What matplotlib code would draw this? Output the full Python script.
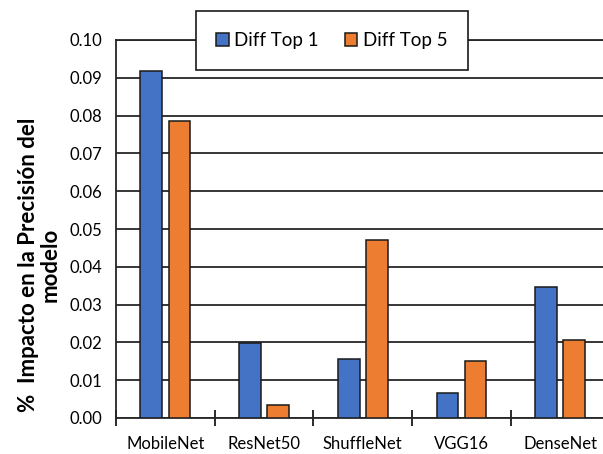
import numpy as np
import matplotlib
matplotlib.use('Agg')
import matplotlib.pyplot as plt

models = ['MobileNet', 'ResNet50', 'ShuffleNet', 'VGG16', 'DenseNet']
diff_top1 = [0.0918, 0.0199, 0.0156, 0.0066, 0.0347]
diff_top5 = [0.0786, 0.0034, 0.0471, 0.0151, 0.0206]
yticks = [0.00, 0.01, 0.02, 0.03, 0.04, 0.05, 0.06, 0.07, 0.08, 0.09, 0.10]

plt.rcParams['font.family'] = ['Lato', 'DejaVu Sans']

fig = plt.figure(figsize=(6.03, 4.54), dpi=100)
# right edge of the plot runs past the figure border
ax = fig.add_axes([116 / 603, 1 - 418 / 454, 493.5 / 603, 378 / 454])

x = np.arange(len(models))
w = 0.22
off = 0.142
b1 = ax.bar(x - off, diff_top1, w, color='#4472C4', edgecolor='#1a1a1a', linewidth=1.1,
            label='Diff Top 1', zorder=3)
b2 = ax.bar(x + off, diff_top5, w, color='#ED7D31', edgecolor='#1a1a1a', linewidth=1.1,
            label='Diff Top 5', zorder=3)

ax.set_xlim(-0.5, len(models) - 0.5)
ax.set_ylim(0, 0.10)
ax.set_yticks(yticks)
ax.set_yticklabels(['%.2f' % v for v in yticks], fontsize=12)
ax.tick_params(axis='y', length=0, pad=10)

ax.set_xticks(x)
ax.set_xticklabels(models, fontsize=12)
ax.set_xticks(np.arange(len(models) + 1) - 0.5, minor=True)
ax.tick_params(axis='x', which='major', length=0, pad=13)
ax.tick_params(axis='x', which='minor', length=12, direction='inout', width=1.3, color='#1a1a1a')

ax.yaxis.grid(True, color='#262626', linewidth=1.3, zorder=0)
ax.set_axisbelow(True)
for side in ['left', 'top', 'bottom', 'right']:
    ax.spines[side].set_color('#262626')
    ax.spines[side].set_linewidth(1.3)

ax.set_ylabel('%  Impacto en la Precisión del\nmodelo', fontsize=16, fontweight='bold',
              linespacing=1.05)
ax.yaxis.set_label_coords(-0.112, (418 - 265) / 378)

leg = fig.legend(handles=[b1, b2], loc='center', bbox_to_anchor=(332 / 603, 1 - 40.5 / 454),
                 ncol=2, fontsize=13.5, frameon=True, fancybox=False, edgecolor='#1a1a1a',
                 framealpha=1, borderpad=1.1, handlelength=0.65, handleheight=0.65,
                 handletextpad=0.3, columnspacing=1.4, borderaxespad=0)
leg.get_frame().set_linewidth(1.2)

fig.savefig('out.png', dpi=100)
